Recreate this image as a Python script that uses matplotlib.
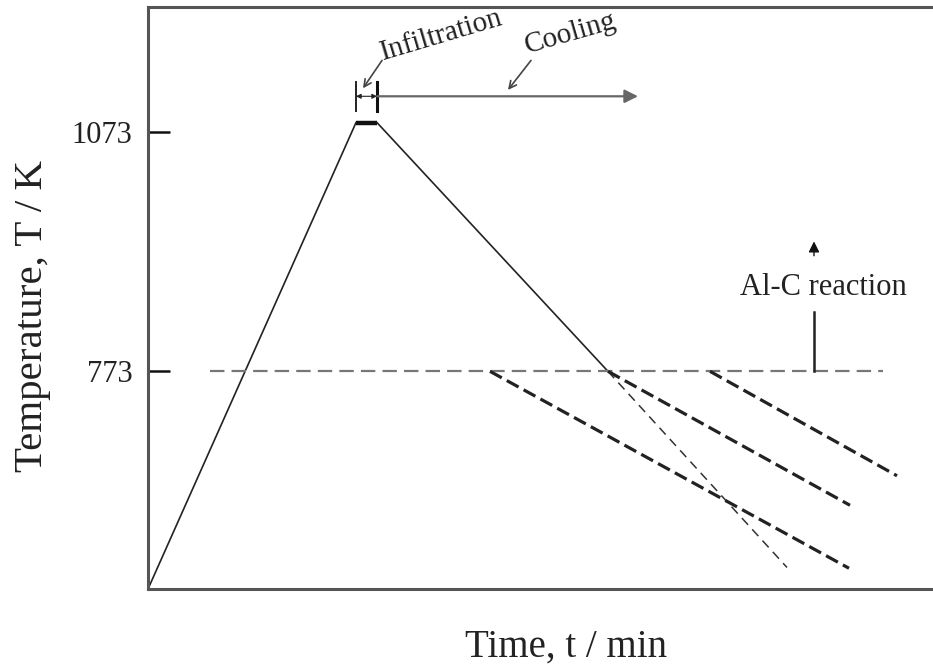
import matplotlib.pyplot as plt

plt.rcParams['font.family'] = ['Liberation Serif', 'DejaVu Serif']

# process schedule (time in arbitrary min, temperature in K)
heat_t = [0.0, 20.8]
heat_T = [500, 1085]
hold_t = [20.8, 22.9]
hold_T = [1085, 1085]
cool_t = [22.9, 46.0]
cool_T = [1085, 773]
cool_ext_t = [46.0, 63.9]
cool_ext_T = [773, 527]

# Al-C reaction threshold
react_T = 773
react_t = [6.2, 73.5]

# slower cooling paths below the threshold
slow_start_t = [34.2, 46.0, 56.2]
slow_end_t = [70.1, 70.2, 74.9]
slow_end_T = [526, 605, 642]

yticks = [773, 1073]
ytick_labels = ['773', '1073']

fig = plt.figure(figsize=(9.33, 6.69), dpi=100)
ax = fig.add_axes([148 / 933, 80 / 669, 785 / 933, 582 / 669])
ax.set_xlim(0, 78.5)
ax.set_ylim(500, 1230)

ax.plot(heat_t, heat_T, color='#222', lw=1.2)
ax.plot(hold_t, hold_T, color='#111', lw=3.2, solid_capstyle='butt')
ax.plot(cool_t, cool_T, color='#222', lw=1.2)
ax.plot(cool_ext_t, cool_ext_T, color='#333', lw=1.1, dashes=(6, 4))

ax.plot(react_t, [react_T, react_T], color='#777', lw=1.6, dashes=(6.5, 3.2))

for t0, t1, T1 in zip(slow_start_t, slow_end_t, slow_end_T):
    ax.plot([t0, t1], [react_T, T1], color='#222', lw=2.3, dashes=(4.2, 1.8))

# Al-C reaction marker
ax.plot([66.6, 66.6], [react_T, 848], color='#222', lw=1.8)
ax.annotate('', xy=(66.6, 936), xytext=(66.6, 918),
            arrowprops=dict(arrowstyle='-|>', color='#111', lw=1.0,
                            mutation_scale=16, shrinkA=0, shrinkB=0))
ax.text(67.5, 878, 'Al-C reaction', fontsize=22, ha='center', va='center',
        color='#222')

# infiltration / cooling time markers
ax.plot([20.8, 20.8], [1100, 1136], color='#222', lw=1.4)
ax.plot([22.9, 22.9], [1100, 1136], color='#111', lw=2.2)
ax.annotate('', xy=(20.8, 1118), xytext=(22.9, 1118),
            arrowprops=dict(arrowstyle='<|-|>', color='#222', lw=0.8,
                            mutation_scale=7, shrinkA=0, shrinkB=0))
ax.annotate('', xy=(49.0, 1118), xytext=(22.9, 1118),
            arrowprops=dict(arrowstyle='-|>', color='#666', lw=1.6,
                            mutation_scale=20, shrinkA=0, shrinkB=0))

ax.text(23.5, 1163, 'Infiltration', fontsize=21, rotation=16.5,
        rotation_mode='anchor', ha='left', va='baseline', color='#222')
ax.annotate('', xy=(21.5, 1128), xytext=(23.4, 1163),
            arrowprops=dict(arrowstyle='->', color='#444', lw=1.2,
                            mutation_scale=13, shrinkA=0, shrinkB=0))
ax.text(37.9, 1172, 'Cooling', fontsize=21, rotation=16,
        rotation_mode='anchor', ha='left', va='baseline', color='#222')
ax.annotate('', xy=(36.0, 1126), xytext=(38.3, 1163),
            arrowprops=dict(arrowstyle='->', color='#444', lw=1.2,
                            mutation_scale=13, shrinkA=0, shrinkB=0))

ax.set_xticks([])
ax.set_yticks(yticks)
ax.set_yticklabels(ytick_labels, fontsize=22, color='#222')
ax.tick_params(axis='y', direction='in', length=16, width=1.8,
               color='#111', pad=11)

for side in ['left', 'top', 'bottom']:
    ax.spines[side].set_color('#555')
    ax.spines[side].set_linewidth(2.2)
ax.spines['right'].set_visible(False)

fig.text(42 / 933, 1 - 316 / 669, 'Temperature, T / K', fontsize=29.5,
         rotation=90, rotation_mode='anchor', ha='center', va='baseline',
         color='#222')
fig.text(566 / 933, 1 - 657 / 669, 'Time, t / min', fontsize=28,
         ha='center', va='baseline', color='#222')

fig.savefig('out.png', dpi=100)
